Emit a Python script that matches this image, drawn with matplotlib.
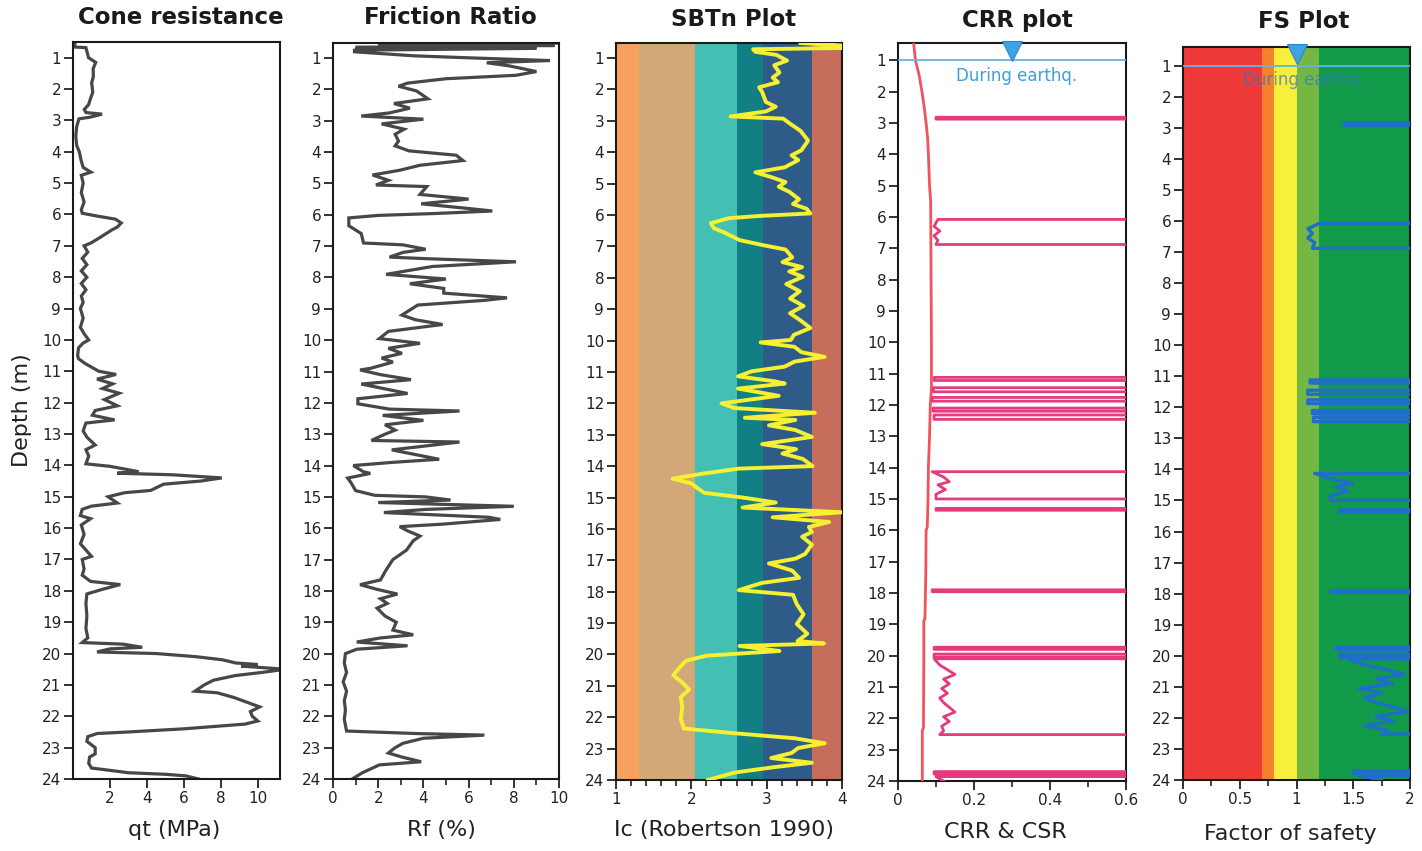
import numpy as np
import matplotlib
matplotlib.use("Agg")
import matplotlib.pyplot as plt
from matplotlib.ticker import MultipleLocator, FixedLocator
from matplotlib.transforms import blended_transform_factory

qt_depth = [0.52, 0.66, 0.68, 1.0, 1.15, 1.35, 1.6, 1.8, 2.1, 2.3, 2.5, 2.65, 2.75,
            2.8, 2.9, 2.95, 3.2, 3.5, 3.8, 4.0, 4.3, 4.5, 4.65, 4.75, 5.0, 5.3,
            5.6, 5.85, 5.96, 6.05, 6.15, 6.27, 6.4, 6.5, 6.7, 6.9, 7.0, 7.2, 7.4,
            7.6, 7.8, 8.0, 8.2, 8.4, 8.6, 8.8, 9.0, 9.3, 9.6, 9.8, 10.0, 10.1,
            10.25, 10.5, 10.6, 10.75, 11.0, 11.1, 11.25, 11.4, 11.55, 11.7, 11.9,
            12.1, 12.25, 12.4, 12.55, 12.65, 12.9, 13.1, 13.35, 13.5, 13.7, 13.95,
            14.03, 14.15, 14.2, 14.25, 14.3, 14.4, 14.5, 14.6, 14.8, 14.87, 15.0,
            15.2, 15.3, 15.4, 15.6, 15.7, 15.9, 16.2, 16.5, 16.9, 17.0, 17.3, 17.5,
            17.7, 17.8, 17.95, 18.1, 18.4, 18.8, 19.2, 19.5, 19.65, 19.7, 19.8,
            19.85, 19.95, 20.0, 20.1, 20.2, 20.3, 20.35, 20.4, 20.5, 20.6, 20.7,
            20.85, 21.0, 21.2, 21.25, 21.4, 21.55, 21.7, 21.85, 22.0, 22.15, 22.25,
            22.4, 22.5, 22.55, 22.65, 22.8, 23.0, 23.2, 23.3, 23.5, 23.65, 23.8,
            23.85, 23.9, 24.0]
qt_val = [0.1, 0.1, 0.7, 0.84, 1.23, 1.09, 1.1, 1.01, 1.07, 0.95, 0.84, 0.61, 0.7,
          1.57, 0.9, 0.32, 0.2, 0.15, 0.2, 0.34, 0.45, 0.55, 0.97, 0.45, 0.55, 0.45,
          0.6, 0.45, 0.5, 1.3, 2.3, 2.61, 2.4, 2.08, 1.55, 1.0, 0.6, 0.8, 0.5,
          0.75, 0.45, 0.75, 0.45, 0.7, 0.45, 0.55, 0.4, 0.55, 0.4, 0.6, 0.85, 0.55,
          0.3, 0.25, 0.3, 0.65, 1.4, 2.33, 1.3, 2.15, 1.6, 2.5, 1.7,
          2.4, 1.2, 1.05, 2.25, 0.7, 0.55, 0.75, 1.2, 0.7, 0.85, 0.7,
          2.0, 3.1, 3.55, 2.4, 5.4, 8.05, 6.9, 4.9, 4.2, 2.8, 1.9,
          2.4, 1.0, 0.5, 0.4, 0.95, 0.45, 0.6, 0.4, 1.0, 0.5, 0.6, 0.5,
          0.95, 2.56, 1.6, 0.75, 0.7, 0.75, 0.7, 0.8, 0.5, 2.7, 3.75,
          2.0, 1.3, 4.5, 6.65, 8.1, 8.8, 10.0, 9.1, 11.5, 10.25, 8.8,
          7.6, 7.1, 6.6, 7.8, 8.7, 9.4, 10.1, 9.6, 9.7, 10.0, 9.3,
          6.0, 3.0, 1.3, 0.8, 0.75, 1.2, 1.2, 0.9, 0.85, 1.0, 3.0,
          5.0, 6.1, 6.8]

rf_depth = [0.52, 0.56, 0.6, 0.66, 0.69, 0.75, 0.8, 0.93, 1.0, 1.08, 1.15, 1.25,
            1.43, 1.55, 1.66, 1.8, 1.9, 2.05, 2.3, 2.45, 2.6, 2.75, 2.85, 2.95,
            3.1, 3.27, 3.43, 3.65, 3.8, 3.96, 4.1, 4.27, 4.42, 4.58, 4.73, 4.9,
            5.05, 5.1, 5.35, 5.5, 5.65, 5.8, 5.88, 5.96, 6.02, 6.1, 6.35, 6.6,
            6.9, 6.96, 7.1, 7.2, 7.35, 7.4, 7.5, 7.65, 7.9, 8.05, 8.2, 8.35, 8.5,
            8.65, 8.73, 8.88, 9.2, 9.35, 9.5, 9.72, 9.95, 10.1, 10.26, 10.42,
            10.57, 10.7, 10.9, 10.95, 11.1, 11.26, 11.4, 11.57, 11.7, 11.87,
            12.03, 12.2, 12.26, 12.4, 12.56, 12.7, 12.87, 13.0, 13.2, 13.25,
            13.5, 13.65, 13.8, 13.9, 14.0, 14.2, 14.25, 14.4, 14.55, 14.8, 14.95,
            15.0, 15.1, 15.18, 15.3, 15.4, 15.5, 15.65, 15.72, 15.87, 15.95,
            16.1, 16.25, 16.4, 16.7, 17.0, 17.33, 17.65, 17.8, 17.95, 18.1,
            18.25, 18.4, 18.55, 18.8, 19.0, 19.25, 19.4, 19.5, 19.63, 19.75,
            19.86, 20.0, 20.3, 20.6, 20.9, 21.2, 21.5, 21.8, 22.1, 22.47, 22.55,
            22.6, 22.7, 22.86, 23.0, 23.17, 23.3, 23.45, 23.55, 23.8, 24.0]
rf_val = [10.5, 2.0, 9.8, 1.0, 9.0, 0.95, 0.95, 3.6, 6.3, 9.6, 6.8, 7.8,
          9.0, 8.1, 5.0, 3.3, 2.9, 3.7, 4.2, 2.7, 3.4, 2.5, 1.25, 4.0,
          2.15, 3.15, 2.75, 2.9, 2.75, 3.35, 5.45, 5.75, 3.85, 2.95, 1.75, 2.45,
          1.9, 4.15, 3.85, 6.0, 3.9, 6.0, 7.05, 4.5, 2.0, 0.7, 0.7, 1.25,
          1.35, 3.1, 4.1, 3.1, 2.5, 4.1, 8.1, 4.4, 2.35, 5.0, 3.4, 4.9, 4.9,
          7.7, 6.7, 3.75, 3.05, 3.65, 4.85, 2.45, 2.05, 3.85, 2.45, 3.05,
          2.15, 2.65, 1.65, 1.2, 2.1, 3.45, 1.25, 2.4, 3.3, 1.1,
          1.1, 2.5, 5.6, 2.2, 4.0, 2.3, 2.75, 2.3, 1.7, 5.6,
          2.6, 3.65, 4.7, 2.6, 0.9, 1.35, 1.65, 0.65, 0.8, 1.0, 1.85,
          4.1, 5.2, 2.0, 8.0, 4.1, 2.25, 6.9, 7.4, 4.85, 2.95,
          3.35, 3.85, 3.55, 3.25, 2.65, 2.35, 2.1, 1.2, 1.95, 2.85,
          2.1, 2.4, 1.95, 2.3, 2.8, 2.65, 3.55, 2.1, 1.05, 3.3,
          1.05, 0.55, 0.5, 0.6, 0.45, 0.6, 0.5, 0.55, 0.5, 0.6, 3.7,
          6.7, 4.0, 3.1, 2.75, 2.45, 3.05, 3.9, 2.05, 1.3, 0.85]

ic_depth = [0.52, 0.6, 0.68, 0.72, 0.8, 0.9, 1.08, 1.23, 1.46, 1.62, 1.77, 1.93,
            2.08, 2.4, 2.55, 2.7, 2.86, 2.93, 3.09, 3.32, 3.63, 3.94, 4.1, 4.25,
            4.48, 4.64, 4.8, 4.95, 5.1, 5.26, 5.5, 5.65, 5.8, 5.95, 6.03, 6.1,
            6.26, 6.42, 6.57, 6.8, 6.96, 7.1, 7.35, 7.5, 7.66, 7.8, 7.97, 8.2,
            8.43, 8.66, 8.9, 9.13, 9.36, 9.6, 9.82, 9.98, 10.06, 10.2, 10.37,
            10.52, 10.67, 10.83, 10.98, 11.14, 11.3, 11.37, 11.53, 11.76, 12.0,
            12.15, 12.3, 12.46, 12.53, 12.7, 12.85, 13.07, 13.3, 13.46, 13.6,
            13.77, 14.0, 14.08, 14.24, 14.4, 14.55, 14.7, 14.85, 15.0, 15.16,
            15.32, 15.47, 15.63, 15.78, 15.94, 16.1, 16.25, 16.5, 16.8, 16.95,
            17.1, 17.33, 17.56, 17.72, 17.95, 18.1, 18.4, 18.72, 19.03, 19.34,
            19.57, 19.65, 19.73, 19.89, 20.04, 20.2, 20.43, 20.66, 20.9, 21.12,
            21.36, 21.67, 22.05, 22.36, 22.5, 22.67, 22.83, 22.98, 23.14, 23.3,
            23.45, 23.6, 23.76, 24.0]
ic_val = [3.45, 4.0, 4.0, 2.82, 2.85, 3.13, 3.27, 3.1, 3.17, 3.08, 3.15, 2.9,
          2.94, 2.99, 3.12, 2.99, 2.52, 3.22, 3.31, 3.45, 3.55, 3.46, 3.33, 3.42,
          3.24, 2.85, 3.07, 3.25, 3.16, 3.3, 3.43, 3.35, 3.53, 3.58, 2.9, 2.5,
          2.26, 2.3, 2.45, 2.64, 2.95, 3.25, 3.34, 3.21, 3.47, 3.3, 3.48, 3.26,
          3.44, 3.31, 3.49, 3.31, 3.45, 3.58, 3.36, 3.32, 2.92, 3.37, 3.46,
          3.77, 3.37, 3.24, 2.8, 2.62, 3.11, 3.24, 2.62, 3.16, 2.4,
          2.57, 3.64, 2.71, 3.38, 3.03, 3.38, 3.6, 2.94, 3.39, 3.21,
          3.48, 3.61, 2.63, 2.15, 1.75, 2.0, 2.08, 2.17, 2.68, 3.12,
          2.68, 4.0, 3.08, 3.83, 3.56, 3.6, 3.47, 3.6, 3.51, 3.38,
          3.03, 3.34, 3.43, 2.94, 2.63, 3.35, 3.4, 3.49, 3.4, 3.54,
          3.41, 3.76, 2.64, 3.17, 2.2, 1.93, 1.84, 1.76, 1.88, 1.97,
          1.86, 1.88, 1.86, 1.9, 2.52, 3.37, 3.77, 3.42, 3.33, 3.06,
          3.6, 3.07, 2.58, 2.22]

# Robertson (1990) Ic zone limits and fills
sbt_edges = [1.0, 1.31, 2.05, 2.6, 2.95, 3.6, 4.0]
sbt_colors = ["#F6A25E", "#D2A878", "#43BFB3", "#117F83", "#2E5B88", "#C76D5C"]

csr_depth = [0.45, 1.0, 1.5, 2.0, 2.5, 3.0, 3.5, 4.0, 5.0, 5.5, 8.0, 10.0, 11.5,
             12.0, 13.0, 14.0, 15.0, 15.9, 16.0, 17.5, 18.8, 18.9, 20.0, 22.3,
             22.4, 24.0]
csr_val = [0.041, 0.046, 0.056, 0.063, 0.069, 0.074, 0.078, 0.080, 0.083, 0.086,
           0.087, 0.088, 0.088, 0.085, 0.083, 0.080, 0.079, 0.077, 0.074, 0.073,
           0.071, 0.068, 0.068, 0.067, 0.064, 0.064]

# CRR: 1.0 = above plotting range (non-liquefiable layer)
crr_depth = [0.45, 2.82, 2.82, 2.88, 2.88, 6.08, 6.08, 6.3, 6.45, 6.6, 6.75, 6.88,
             6.88, 11.12, 11.12, 11.22, 11.22, 11.45, 11.45, 11.58, 11.58, 11.76,
             11.76, 11.88, 11.88, 12.1, 12.1, 12.2, 12.2, 12.32, 12.32, 12.46,
             12.46, 14.13, 14.13, 14.3, 14.45, 14.55, 14.7, 14.85, 15.0, 15.0,
             15.3, 15.3, 15.36, 15.36, 17.9, 17.9, 17.96, 17.96, 19.73, 19.73,
             19.8, 19.8, 19.95, 19.95, 20.05, 20.05, 20.1, 20.1, 20.3, 20.45,
             20.6, 20.75, 20.9, 21.05, 21.2, 21.35, 21.5, 21.65, 21.8, 21.95,
             22.1, 22.25, 22.4, 22.52, 22.52, 23.7, 23.7, 23.78, 23.78, 23.86,
             23.86, 24.0]
crr_val = [1.0, 1.0, 0.10, 0.10, 1.0, 1.0, 0.105, 0.095, 0.11, 0.095, 0.105, 0.10,
           1.0, 1.0, 0.095, 0.095, 1.0, 1.0, 0.093, 0.093, 1.0, 1.0,
           0.09, 0.09, 1.0, 1.0, 0.092, 0.092, 1.0, 1.0, 0.095, 0.095,
           1.0, 1.0, 0.09, 0.12, 0.135, 0.105, 0.125, 0.10, 0.10, 1.0,
           1.0, 0.10, 0.10, 1.0, 1.0, 0.09, 0.09, 1.0, 1.0, 0.095,
           0.095, 1.0, 1.0, 0.095, 0.095, 1.0, 1.0, 0.095, 0.11, 0.13,
           0.15, 0.12, 0.135, 0.115, 0.13, 0.11, 0.12, 0.135, 0.15, 0.12,
           0.135, 0.115, 0.12, 0.11, 1.0, 1.0, 0.095, 0.095, 1.0, 1.0,
           0.10, 0.12]

# FS: 3.0 = above plotting range
fs_depth = [0.4, 2.85, 2.85, 2.92, 2.92, 6.08, 6.08, 6.25, 6.4, 6.55, 6.7, 6.88,
            6.88, 11.12, 11.12, 11.22, 11.22, 11.45, 11.45, 11.58, 11.58, 11.76,
            11.76, 11.88, 11.88, 12.1, 12.1, 12.2, 12.2, 12.32, 12.32, 12.46,
            12.46, 14.13, 14.13, 14.3, 14.45, 14.55, 14.7, 14.85, 15.0, 15.0,
            15.3, 15.3, 15.36, 15.36, 17.9, 17.9, 17.96, 17.96, 19.73, 19.73,
            19.8, 19.8, 19.95, 19.95, 20.05, 20.05, 20.1, 20.1, 20.3, 20.45,
            20.6, 20.75, 20.9, 21.05, 21.2, 21.35, 21.5, 21.65, 21.8, 21.95,
            22.1, 22.25, 22.4, 22.52, 22.52, 23.7, 23.7, 23.78, 23.78, 23.86,
            23.86, 24.0]
fs_val = [3.0, 3.0, 1.42, 1.42, 3.0, 3.0, 1.2, 1.1, 1.14, 1.1, 1.16, 1.14,
          3.0, 3.0, 1.12, 1.12, 3.0, 3.0, 1.1, 1.1, 3.0, 3.0,
          1.1, 1.1, 3.0, 3.0, 1.14, 1.14, 3.0, 3.0, 1.15, 1.15,
          3.0, 3.0, 1.16, 1.3, 1.5, 1.35, 1.45, 1.3, 1.3, 3.0,
          3.0, 1.38, 1.38, 3.0, 3.0, 1.3, 1.3, 3.0, 3.0, 1.35,
          1.35, 3.0, 3.0, 1.38, 1.38, 3.0, 3.0, 1.45, 1.6, 1.8,
          1.95, 1.7, 1.85, 1.55, 1.75, 1.6, 1.7, 1.85, 1.98, 1.7,
          1.85, 1.6, 1.8, 1.75, 3.0, 3.0, 1.5, 1.5, 3.0, 3.0,
          1.55, 1.75]

fs_edges = [0.0, 0.7, 0.8, 1.0, 1.2, 2.0]
fs_colors = ["#EE3B39", "#F4812B", "#F8EF3C", "#74B843", "#119A49"]

water_depth = 1.0

# ── figure ───────────────────────────────────────────────────────────────────

W, H = 1422, 851
fig = plt.figure(figsize=(W / 100, H / 100), dpi=100)
plt.rcParams["font.family"] = "DejaVu Sans"


def add_panel(l, t, r, b, xlim, ytop):
    ax = fig.add_axes([l / W, 1 - b / H, (r - l) / W, (b - t) / H])
    ax.set_xlim(*xlim)
    ax.set_ylim(24, ytop)
    ax.yaxis.set_major_locator(MultipleLocator(1))
    ax.tick_params(which="major", direction="out", length=6.5, width=1.3,
                   labelsize=11, pad=2, color="#222222", labelcolor="#222222")
    ax.tick_params(which="minor", direction="out", length=4.5, width=1.2,
                   color="#222222")
    for sp in ax.spines.values():
        sp.set_linewidth(1.5)
        sp.set_color("#1a1a1a")
    return ax


def water_table(ax):
    ax.axhline(water_depth, color="#62B4E8", lw=1.3, zorder=4)
    tr = blended_transform_factory(ax.transAxes, ax.transData)
    ytop = ax.get_ylim()[1]
    ax.plot([0.5], [ytop + 0.24], marker="v", ms=15, color="#3FA2E2",
            mec="#2B86C8", mew=0.8, transform=tr, clip_on=False, zorder=6)


# panel 1 - cone resistance
ax1 = add_panel(73, 42, 280, 779, (0, 11.2), 0.5)
ax1.plot(qt_val, qt_depth, color="#474747", lw=2.3, solid_joinstyle="miter")
ax1.xaxis.set_major_locator(FixedLocator([2, 4, 6, 8, 10]))

# panel 2 - friction ratio
ax2 = add_panel(333, 43, 559, 779, (0, 10), 0.52)
ax2.plot(rf_val, rf_depth, color="#474747", lw=2.3, solid_joinstyle="miter")
ax2.xaxis.set_major_locator(MultipleLocator(2))
ax2.xaxis.set_minor_locator(MultipleLocator(1))

# panel 3 - SBTn
ax3 = add_panel(616, 43, 842, 780, (1, 4), 0.52)
for x0, x1, c in zip(sbt_edges[:-1], sbt_edges[1:], sbt_colors):
    ax3.axvspan(x0, x1, color=c, lw=0, zorder=0)
ax3.plot(ic_val, ic_depth, color="#F6F032", lw=2.8, zorder=3)
ax3.xaxis.set_major_locator(MultipleLocator(1))
ax3.xaxis.set_minor_locator(MultipleLocator(0.2))

# panel 4 - CRR & CSR
ax4 = add_panel(898, 43, 1126, 781, (0, 0.6), 0.45)
ax4.plot(csr_val, csr_depth, color="#F1525C", lw=2.0, zorder=3)
ax4.plot(crr_val, crr_depth, color="#E63A7E", lw=2.0, zorder=3)
ax4.xaxis.set_major_locator(FixedLocator([0, 0.2, 0.4, 0.6]))
ax4.xaxis.set_minor_locator(FixedLocator([0.1, 0.3, 0.5]))
ax4.set_xticklabels(["0", "0.2", "0.4", "0.6"])
water_table(ax4)
ax4.text(0.52, 1.5, "During earthq.", color="#3E9FE0", fontsize=12,
         ha="center", va="center",
         transform=blended_transform_factory(ax4.transAxes, ax4.transData))

# panel 5 - factor of safety
ax5 = add_panel(1183, 47, 1410, 780, (0, 2), 0.4)
for x0, x1, c in zip(fs_edges[:-1], fs_edges[1:], fs_colors):
    ax5.axvspan(x0, x1, color=c, lw=0, zorder=0)
ax5.plot(fs_val, fs_depth, color="#1E6ECA", lw=2.4, zorder=3)
ax5.xaxis.set_major_locator(FixedLocator([0, 0.5, 1, 1.5, 2]))
ax5.xaxis.set_minor_locator(FixedLocator([0.25, 0.75, 1.25, 1.75]))
ax5.set_xticklabels(["0", "0.5", "1", "1.5", "2"])
water_table(ax5)
ax5.text(0.53, 1.45, "During earthq.", color="#2F74C4", fontsize=12, alpha=0.7,
         ha="center", va="center",
         transform=blended_transform_factory(ax5.transAxes, ax5.transData))

# titles and axis labels
titles = [("Cone resistance", 181, 17), ("Friction Ratio", 450, 18),
          ("SBTn Plot", 734, 19), ("CRR plot", 1017, 20), ("FS Plot", 1304, 22)]
for txt, x, y in titles:
    fig.text(x / W, 1 - y / H, txt, ha="center", va="center",
             fontsize=16.5, fontweight="bold", color="#1a1a1a")

xlabels = [("qt (MPa)", 174, 830), ("Rf (%)", 441, 830),
           ("Ic (Robertson 1990)", 724, 830), ("CRR & CSR", 1005, 832),
           ("Factor of safety", 1290, 834)]
for txt, x, y in xlabels:
    fig.text(x / W, 1 - y / H, txt, ha="center", va="center",
             fontsize=16, color="#222222")

fig.text(22 / W, 1 - 410 / H, "Depth (m)", rotation=90, ha="center",
         va="center", fontsize=16, color="#222222")

fig.savefig("out.png", dpi=100)
